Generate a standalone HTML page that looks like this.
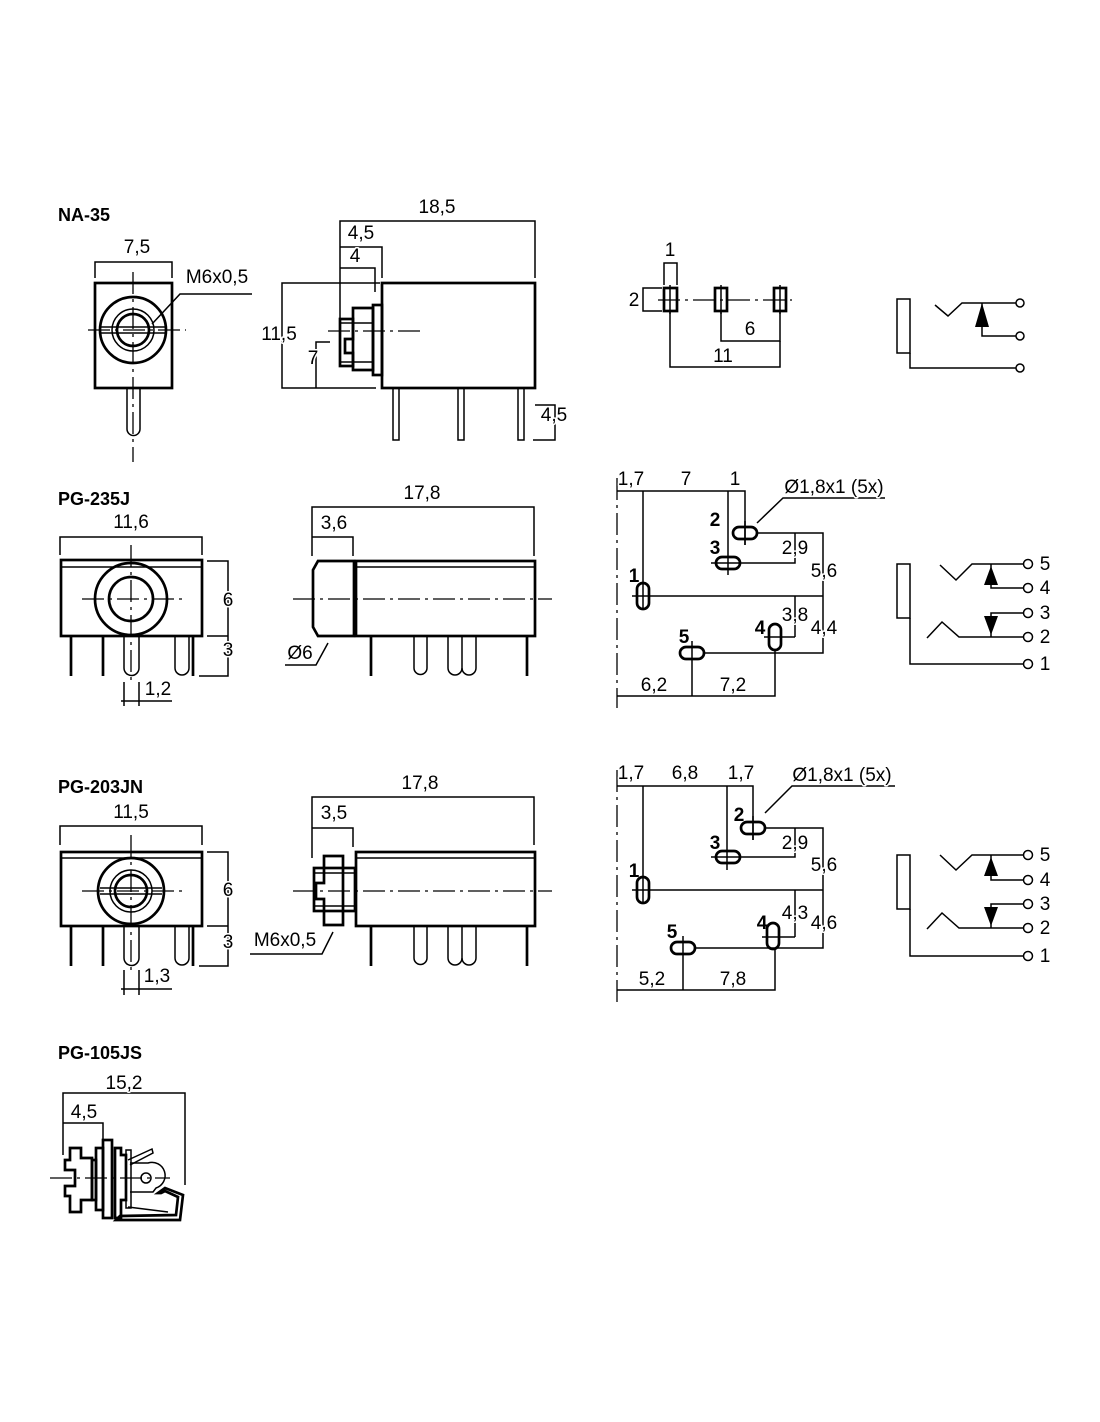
<!DOCTYPE html>
<html><head><meta charset="utf-8"><style>
html,body{margin:0;padding:0;background:#fff}
svg{display:block}
text{font-family:"Liberation Sans",sans-serif;font-size:19px;fill:#000;text-anchor:middle;paint-order:stroke;stroke:#fff;stroke-width:3px;stroke-linejoin:round}
.t{font-weight:bold;text-anchor:start;font-size:18px;stroke:none}
.b{font-weight:bold;stroke:none}
.l{stroke:#000;stroke-width:1.5;fill:none}
.k{stroke:#000;stroke-width:2.7;fill:none}
.c{stroke:#000;stroke-width:1.3;fill:none;stroke-dasharray:22,5,3,5}
</style></head><body>
<svg width="1100" height="1422" viewBox="0 0 1100 1422" xmlns="http://www.w3.org/2000/svg">

<!-- ============ NA-35 ============ -->
<text class="t" x="58" y="221">NA-35</text>
<rect class="k" x="95" y="283" width="77" height="105"/>
<circle class="k" cx="133" cy="330" r="33"/>
<circle class="l" cx="133" cy="330" r="21"/>
<circle class="k" cx="133" cy="330" r="16"/>
<line class="l" x1="100" y1="327" x2="166" y2="327"/><line class="l" x1="100" y1="333" x2="166" y2="333"/>
<line class="c" x1="88" y1="330" x2="186" y2="330"/>
<line class="c" x1="133" y1="272" x2="133" y2="462"/>
<path class="l" d="M127 388 V429 A6.5 6.5 0 0 0 140 429 V388"/>
<path class="l" d="M95 278 V262 H172 V278"/>
<text x="137" y="253">7,5</text>
<text x="217" y="283">M6x0,5</text>
<path class="l" d="M252 294 H180 L152 324"/>
<rect class="k" x="382" y="283" width="153" height="105"/>
<rect class="k" x="373" y="305" width="9" height="70"/>
<path class="k" d="M353 308 H373 V370 H353 V353 H345 V339 H353 Z"/>
<rect class="k" x="340" y="319" width="13" height="47"/>
<line class="l" x1="340" y1="323" x2="373" y2="323"/><line class="l" x1="340" y1="362" x2="373" y2="362"/>
<line class="c" x1="328" y1="331" x2="420" y2="331"/>
<path class="l" d="M340 340 V221 H535 V278"/>
<path class="l" d="M340 247 H382 V278"/>
<path class="l" d="M340 268 H375 V292"/>
<text x="437" y="213">18,5</text>
<text x="361" y="239">4,5</text>
<text x="355" y="262">4</text>
<path class="l" d="M380 283 H282 V388 H376"/>
<path class="l" d="M330 342 H316 V388"/>
<text x="279" y="340">11,5</text>
<text x="313" y="364">7</text>
<rect class="l" x="393" y="388" width="6" height="52"/>
<rect class="l" x="458" y="388" width="6" height="52"/>
<rect class="l" x="518" y="388" width="6" height="52"/>
<path class="l" d="M535 405 H555 V440 H533"/>
<text x="554" y="421">4,5</text>
<line class="c" x1="658" y1="300" x2="792" y2="300"/>
<rect class="k" x="664" y="288" width="13" height="23"/><line class="l" x1="670" y1="285" x2="670" y2="314"/>
<rect class="k" x="715" y="288" width="12" height="23"/><line class="l" x1="721" y1="285" x2="721" y2="314"/>
<rect class="k" x="774" y="288" width="12" height="23"/><line class="l" x1="780" y1="285" x2="780" y2="314"/>
<path class="l" d="M664 285 V263 H677 V285"/>
<path class="l" d="M662 288 H643 V311 H662"/>
<text x="670" y="256">1</text>
<text x="634" y="306">2</text>
<path class="l" d="M721 311 V341 H780 V311"/>
<path class="l" d="M670 311 V367 H780 V341"/>
<text x="750" y="335">6</text>
<text x="723" y="362">11</text>
<rect class="l" x="897" y="299" width="13" height="54"/>
<path class="l" d="M910 353 V368 H1016"/><circle class="l" cx="1020" cy="368" r="4"/>
<path class="l" d="M935 305 L948 316 L962 303 H1016"/><circle class="l" cx="1020" cy="303" r="4"/>
<path class="l" d="M982 303 V336 H1016"/><circle class="l" cx="1020" cy="336" r="4"/>
<path d="M982 303 L975 327 H989 Z" fill="#000"/>

<!-- ============ PG-235J ============ -->
<text class="t" x="58" y="505">PG-235J</text>
<rect class="k" x="61" y="560" width="141" height="76"/>
<line class="l" x1="61" y1="567" x2="202" y2="567"/>
<circle class="k" cx="131" cy="599" r="36"/>
<circle class="k" cx="131" cy="599" r="22"/>
<line class="c" x1="82" y1="599" x2="182" y2="599"/>
<line class="c" x1="131" y1="545" x2="131" y2="680"/>
<line class="k" x1="71" y1="636" x2="71" y2="676"/>
<line class="k" x1="103" y1="636" x2="103" y2="676"/>
<line class="k" x1="193" y1="636" x2="193" y2="676"/>
<path class="l" d="M124 636 V668 A7.5 7.5 0 0 0 139 668 V636"/>
<path class="l" d="M175 636 V668 A7 7 0 0 0 189 668 V636"/>
<path class="l" d="M60 555 V537 H202 V555"/>
<text x="131" y="528">11,6</text>
<path class="l" d="M207 561 H228 V676 H199"/><line class="l" x1="207" y1="636" x2="228" y2="636"/>
<text x="228" y="606">6</text>
<text x="228" y="656">3</text>
<path class="l" d="M124 682 V706 M139 682 V706 M121 701 H172"/>
<text x="158" y="695">1,2</text>
<path class="k" d="M354 561 H318 L313 570 V627 L318 636 H354 Z"/>
<rect class="k" x="356" y="561" width="179" height="75"/>
<line class="l" x1="356" y1="567" x2="535" y2="567"/>
<line class="c" x1="293" y1="599" x2="552" y2="599"/>
<line class="k" x1="371" y1="636" x2="371" y2="676"/>
<line class="k" x1="527" y1="636" x2="527" y2="676"/>
<path class="l" d="M414 636 V668 A6.5 6.5 0 0 0 427 668 V636"/>
<path class="l" d="M448 636 V668 A7 7 0 0 0 462 668 V636"/>
<path class="l" d="M462 668 A7 7 0 0 0 476 668 V636"/>
<path class="l" d="M312 556 V507 H534 V556"/>
<path class="l" d="M312 537 H353 V556"/>
<text x="422" y="499">17,8</text>
<text x="334" y="529">3,6</text>
<text x="300" y="659">Ø6</text>
<path class="l" d="M285 665 H316 L328 643"/>
<line class="c" x1="617" y1="478" x2="617" y2="708"/>
<path class="l" d="M617 491 H745 V545"/>
<path class="l" d="M643 491 V610"/>
<path class="l" d="M728 491 V575"/>
<rect class="k" x="733" y="527" width="24" height="12" rx="6"/><line class="l" x1="745" y1="521" x2="745" y2="545"/>
<rect class="k" x="716" y="557" width="24" height="12" rx="6"/><line class="l" x1="711" y1="563" x2="740" y2="563"/>
<rect class="k" x="637" y="583" width="12" height="26" rx="6"/><line class="l" x1="632" y1="596" x2="649" y2="596"/>
<rect class="k" x="769" y="624" width="12" height="26" rx="6"/><line class="l" x1="764" y1="637" x2="795" y2="637"/>
<rect class="k" x="680" y="647" width="24" height="12" rx="6"/><line class="l" x1="692" y1="641" x2="692" y2="696"/>
<path class="l" d="M757 533 H823 V653 H704"/>
<path class="l" d="M740 563 H795 V533"/>
<path class="l" d="M649 596 H823"/>
<path class="l" d="M795 596 V637"/>
<path class="l" d="M617 696 H775 V650"/>
<path class="l" d="M757 523 L783 498 H885"/>
<text class="b" x="715" y="526">2</text>
<text class="b" x="715" y="554">3</text>
<text class="b" x="634" y="582">1</text>
<text class="b" x="760" y="634">4</text>
<text class="b" x="684" y="643">5</text>
<text x="631" y="485">1,7</text>
<text x="686" y="485">7</text>
<text x="735" y="485">1</text>
<text x="834" y="493">Ø1,8x1 (5x)</text>
<text x="795" y="554">2,9</text>
<text x="824" y="577">5,6</text>
<text x="795" y="621">3,8</text>
<text x="824" y="634">4,4</text>
<text x="654" y="691">6,2</text>
<text x="733" y="691">7,2</text>
<rect class="l" x="897" y="564" width="13" height="54"/>
<path class="l" d="M910 618 V664 H1023"/><circle class="l" cx="1028" cy="664" r="4.5"/>
<path class="l" d="M940 565 L956 580 L972 564 H1023"/><circle class="l" cx="1028" cy="564" r="4.5"/>
<path class="l" d="M991 564 V588 H1023"/><circle class="l" cx="1028" cy="588" r="4.5"/>
<path d="M991 566 L984 585 H998 Z" fill="#000"/>
<path class="l" d="M1023 613 H991 V637"/><circle class="l" cx="1028" cy="613" r="4.5"/>
<path class="l" d="M927 638 L942 622 L959 637 H1023"/><circle class="l" cx="1028" cy="637" r="4.5"/>
<path d="M991 635 L984 616 H998 Z" fill="#000"/>
<text x="1045" y="570">5</text><text x="1045" y="594">4</text><text x="1045" y="619">3</text><text x="1045" y="643">2</text><text x="1045" y="670">1</text>

<!-- ============ PG-203JN ============ -->
<text class="t" x="58" y="793">PG-203JN</text>
<rect class="k" x="61" y="852" width="141" height="74"/>
<line class="l" x1="61" y1="858" x2="202" y2="858"/>
<circle class="k" cx="131" cy="891" r="33"/>
<circle class="l" cx="131" cy="891" r="21"/>
<circle class="k" cx="131" cy="891" r="16"/>
<line class="l" x1="100" y1="888" x2="162" y2="888"/><line class="l" x1="100" y1="894" x2="162" y2="894"/>
<line class="c" x1="82" y1="891" x2="182" y2="891"/>
<line class="c" x1="131" y1="835" x2="131" y2="970"/>
<line class="k" x1="71" y1="926" x2="71" y2="966"/>
<line class="k" x1="103" y1="926" x2="103" y2="966"/>
<line class="k" x1="193" y1="926" x2="193" y2="966"/>
<path class="l" d="M124 926 V958 A7.5 7.5 0 0 0 139 958 V926"/>
<path class="l" d="M175 926 V958 A7 7 0 0 0 189 958 V926"/>
<path class="l" d="M60 845 V826 H202 V845"/>
<text x="131" y="818">11,5</text>
<path class="l" d="M207 852 H228 V966 H199"/><line class="l" x1="207" y1="926" x2="228" y2="926"/>
<text x="228" y="896">6</text>
<text x="228" y="948">3</text>
<path class="l" d="M124 970 V995 M139 970 V995 M121 989 H172"/>
<text x="157" y="982">1,3</text>
<rect class="k" x="356" y="852" width="179" height="74"/>
<line class="l" x1="356" y1="858" x2="535" y2="858"/>
<rect class="k" x="314" y="868" width="41" height="43"/>
<line class="l" x1="314" y1="873" x2="355" y2="873"/><line class="l" x1="314" y1="906" x2="355" y2="906"/>
<path class="k" d="M324 856 H343 V925 H324 V899 H316 V883 H324 Z" fill="#fff"/>
<line class="c" x1="293" y1="891" x2="552" y2="891"/>
<line class="k" x1="371" y1="926" x2="371" y2="966"/>
<line class="k" x1="527" y1="926" x2="527" y2="966"/>
<path class="l" d="M414 926 V958 A6.5 6.5 0 0 0 427 958 V926"/>
<path class="l" d="M448 926 V958 A7 7 0 0 0 462 958 V926"/>
<path class="l" d="M462 958 A7 7 0 0 0 476 958 V926"/>
<path class="l" d="M312 858 V797 H534 V845"/>
<path class="l" d="M312 828 H353 V847"/>
<text x="420" y="789">17,8</text>
<text x="334" y="819">3,5</text>
<text x="285" y="946">M6x0,5</text>
<path class="l" d="M250 954 H322 L333 932"/>
<line class="c" x1="617" y1="770" x2="617" y2="1002"/>
<path class="l" d="M617 786 H753 V840"/>
<path class="l" d="M643 786 V904"/>
<path class="l" d="M727 786 V870"/>
<rect class="k" x="741" y="822" width="24" height="12" rx="6"/><line class="l" x1="753" y1="816" x2="753" y2="840"/>
<rect class="k" x="716" y="851" width="24" height="12" rx="6"/><line class="l" x1="711" y1="857" x2="740" y2="857"/>
<rect class="k" x="637" y="877" width="12" height="26" rx="6"/><line class="l" x1="632" y1="890" x2="649" y2="890"/>
<rect class="k" x="767" y="923" width="12" height="26" rx="6"/><line class="l" x1="762" y1="937" x2="795" y2="937"/>
<rect class="k" x="671" y="942" width="24" height="12" rx="6"/><line class="l" x1="683" y1="936" x2="683" y2="990"/>
<path class="l" d="M765 828 H823 V948 H695"/>
<path class="l" d="M740 857 H795 V828"/>
<path class="l" d="M649 890 H823"/>
<path class="l" d="M795 890 V937"/>
<path class="l" d="M617 990 H775 V949"/>
<path class="l" d="M765 813 L792 786 H895"/>
<text class="b" x="739" y="821">2</text>
<text class="b" x="715" y="849">3</text>
<text class="b" x="634" y="877">1</text>
<text class="b" x="762" y="929">4</text>
<text class="b" x="672" y="938">5</text>
<text x="631" y="779">1,7</text>
<text x="685" y="779">6,8</text>
<text x="741" y="779">1,7</text>
<text x="842" y="781">Ø1,8x1 (5x)</text>
<text x="795" y="849">2,9</text>
<text x="824" y="871">5,6</text>
<text x="795" y="919">4,3</text>
<text x="824" y="929">4,6</text>
<text x="652" y="985">5,2</text>
<text x="733" y="985">7,8</text>
<rect class="l" x="897" y="855" width="13" height="54"/>
<path class="l" d="M910 909 V956 H1023"/><circle class="l" cx="1028" cy="956" r="4.5"/>
<path class="l" d="M940 855 L956 870 L972 855 H1023"/><circle class="l" cx="1028" cy="855" r="4.5"/>
<path class="l" d="M991 855 V880 H1023"/><circle class="l" cx="1028" cy="880" r="4.5"/>
<path d="M991 857 L984 876 H998 Z" fill="#000"/>
<path class="l" d="M1023 904 H991 V928"/><circle class="l" cx="1028" cy="904" r="4.5"/>
<path class="l" d="M927 929 L942 913 L959 928 H1023"/><circle class="l" cx="1028" cy="928" r="4.5"/>
<path d="M991 926 L984 907 H998 Z" fill="#000"/>
<text x="1045" y="861">5</text><text x="1045" y="886">4</text><text x="1045" y="910">3</text><text x="1045" y="934">2</text><text x="1045" y="962">1</text>

<!-- ============ PG-105JS ============ -->
<text class="t" x="58" y="1059">PG-105JS</text>
<path class="l" d="M63 1155 V1093 H185 V1185"/>
<path class="l" d="M63 1123 H103 V1140"/>
<text x="124" y="1089">15,2</text>
<text x="84" y="1118">4,5</text>
<line class="c" x1="50" y1="1178" x2="170" y2="1178"/>
<path class="k" d="M70 1148 H81 V1158 H92 V1200 H81 V1212 H70 V1196 H65 V1186 H75 V1170 H65 V1160 H70 Z"/>
<rect class="k" x="92" y="1160" width="4" height="40"/>
<rect class="k" x="96" y="1148" width="7" height="62"/>
<rect class="k" x="103" y="1140" width="9" height="78"/>
<path class="k" d="M115 1148 H121 V1155 H126 V1200 H121 V1218 H115 Z"/>
<rect class="l" x="126" y="1150" width="5" height="58"/>
<path class="l" d="M130 1163 H148 A13 13 0 0 1 156 1188 L153 1192 H130"/>
<circle class="l" cx="146" cy="1178" r="5"/>
<path class="l" d="M128 1160 L152 1149 L153 1153 L130 1165"/>
<path class="k" d="M116 1220 L180 1220 L183 1195 L165 1188 L158 1193 L161 1193 L165 1191 L178 1197 L176 1215 L120 1216 Z"/>
<path class="l" d="M128 1207 L168 1212"/>
</svg>
</body></html>
